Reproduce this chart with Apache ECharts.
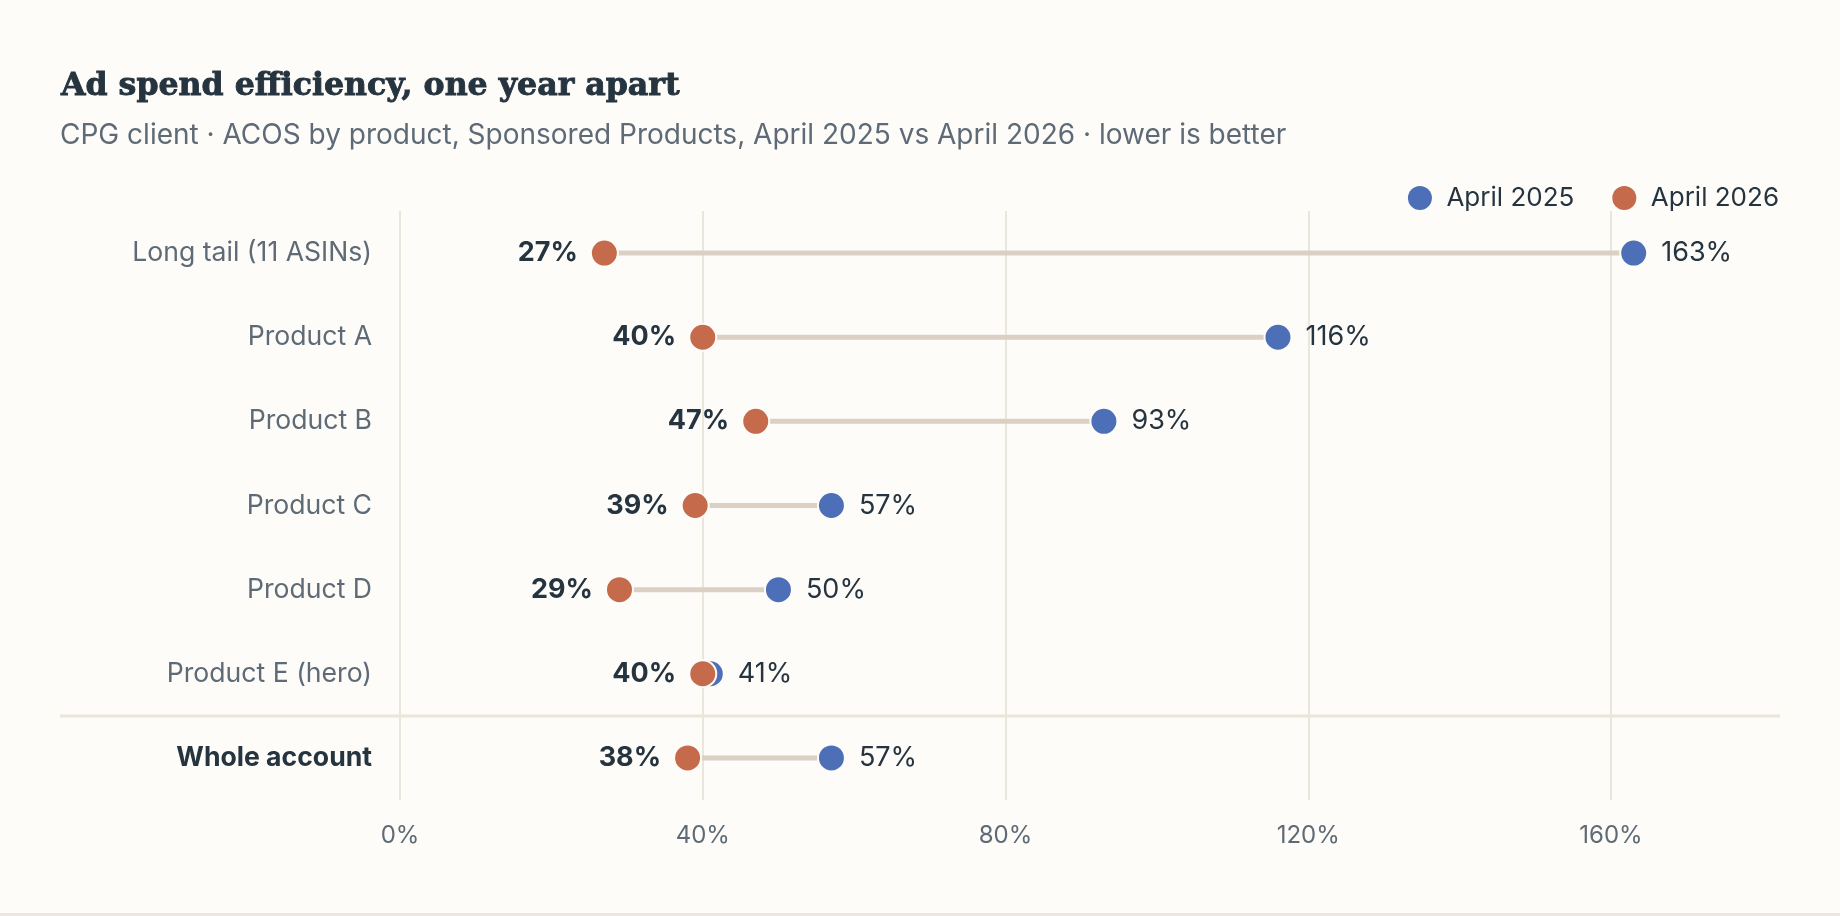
<!DOCTYPE html>
<html>
<head>
<meta charset="utf-8">
<script src="https://cdn.jsdelivr.net/npm/echarts@6/dist/echarts.min.js"></script>
<style>
  html, body { margin: 0; padding: 0; background: #fdfcf9; }
  #chart { width: 1840px; height: 913px; border-bottom: 3px solid #ebe7de; }
</style>
</head>
<body>
<div id="chart"></div>
<script>
// ACOS by product, April 2025 vs April 2026
const categories = ['Long tail (11 ASINs)', 'Product A', 'Product B', 'Product C', 'Product D', 'Product E (hero)', 'Whole account']
const acos2025 = [163, 116, 93, 57, 50, 41, 57]
const acos2026 = [27, 40, 47, 39, 29, 40, 38]
const xTicks = [0, 40, 80, 120, 160]

const blue = '#4d6fb8'
const orange = '#c56a4b'
const dark = '#25343f'
const gray = '#5e6b76'
const bg = '#fdfcf9'

let myEcharts = echarts.init(document.getElementById('chart'))

const options = {
  backgroundColor: bg,
  animation: false,
  textStyle: { fontFamily: 'Inter' },
  title: [{
      text: 'Ad spend efficiency, one year apart',
      left: 56,
      top: 66,
      textStyle: {
        fontFamily: 'DejaVu Serif', fontWeight: 'bold', fontSize: 31.6, color: dark,
        // 加粗一点，接近原图的粗衬线
        textBorderColor: dark, textBorderWidth: 0.9
      }
    },
    {
      text: 'CPG client · ACOS by product, Sponsored Products, April 2025 vs April 2026 · lower is better',
      left: 55,
      top: 117,
      textStyle: { fontFamily: 'Inter', fontWeight: 'normal', fontSize: 28, color: gray }
    }
  ],
  legend: {
    right: 56,
    top: 180,
    itemWidth: 43,
    itemHeight: 24,
    itemGap: 38,
    icon: 'circle',
    itemStyle: { borderWidth: 0 },
    textStyle: { fontSize: 26, color: dark, fontFamily: 'Inter' },
    data: ['April 2025', 'April 2026']
  },
  grid: {
    left: 400,
    right: 1840 - 400 - 180 * 302.75 / 40,
    top: 211,
    height: 589,
    containLabel: false
  },
  xAxis: {
    type: 'value',
    min: 0,
    max: 180,
    interval: 40,
    axisLine: { show: false },
    axisTick: { show: false },
    axisLabel: {
      showMaxLabel: false,
      margin: 24,
      fontSize: 24,
      color: gray,
      formatter: v => xTicks.includes(v) ? v + '%' : ''
    },
    splitLine: {
      show: true,
      showMaxLine: false,
      lineStyle: { color: '#ebe6dc', width: 2 }
    }
  },
  yAxis: {
    type: 'category',
    inverse: true,
    data: categories,
    axisLine: { show: false },
    axisTick: { show: false },
    axisLabel: {
      margin: 28,
      fontSize: 26.6,
      formatter: (v, i) => i === categories.length - 1 ? '{b|' + v + '}' : '{n|' + v + '}',
      rich: {
        n: { fontSize: 26.6, color: gray, fontFamily: 'Inter' },
        b: { fontSize: 26.6, color: dark, fontWeight: 'bold', fontFamily: 'Inter' }
      }
    }
  },
  series: [{
      // 连接线
      type: 'custom',
      silent: true,
      z: 1,
      data: categories.map((c, i) => [acos2026[i], acos2025[i], i]),
      renderItem: (params, api) => {
        const a = api.coord([api.value(0), api.value(2)])
        const b = api.coord([api.value(1), api.value(2)])
        return {
          type: 'line',
          shape: { x1: a[0], y1: a[1], x2: b[0], y2: b[1] },
          style: { stroke: '#dad1c4', lineWidth: 5 }
        }
      }
    },
    {
      name: 'April 2025',
      type: 'scatter',
      z: 2,
      symbolSize: 27,
      itemStyle: { color: blue, borderColor: bg, borderWidth: 2, opacity: 1 },
      data: acos2025.map((v, i) => [v, i]),
      label: {
        show: true,
        position: 'right',
        distance: 13,
        fontSize: 27,
        color: dark,
        formatter: p => p.value[0] + '%'
      }
    },
    {
      name: 'April 2026',
      type: 'scatter',
      z: 3,
      symbolSize: 27,
      itemStyle: { color: orange, borderColor: bg, borderWidth: 2, opacity: 1 },
      data: acos2026.map((v, i) => [v, i]),
      label: {
        show: true,
        position: 'left',
        distance: 12,
        fontSize: 27,
        fontWeight: 'bold',
        color: dark,
        formatter: p => p.value[0] + '%'
      }
    }
  ]
}
options && myEcharts.setOption(options)

// 分隔线：Product E 与 Whole account 之间
const n = categories.length
const yA = myEcharts.convertToPixel({ yAxisIndex: 0 }, n - 2)
const yB = myEcharts.convertToPixel({ yAxisIndex: 0 }, n - 1)
const ySep = Math.round((yA + yB) / 2)
myEcharts.setOption({
  graphic: [{
    type: 'line',
    silent: true,
    shape: { x1: 60, y1: ySep, x2: 1780, y2: ySep },
    style: { stroke: '#ebe6dc', lineWidth: 3 },
    z: 0
  }]
})
</script>
</body>
</html>
